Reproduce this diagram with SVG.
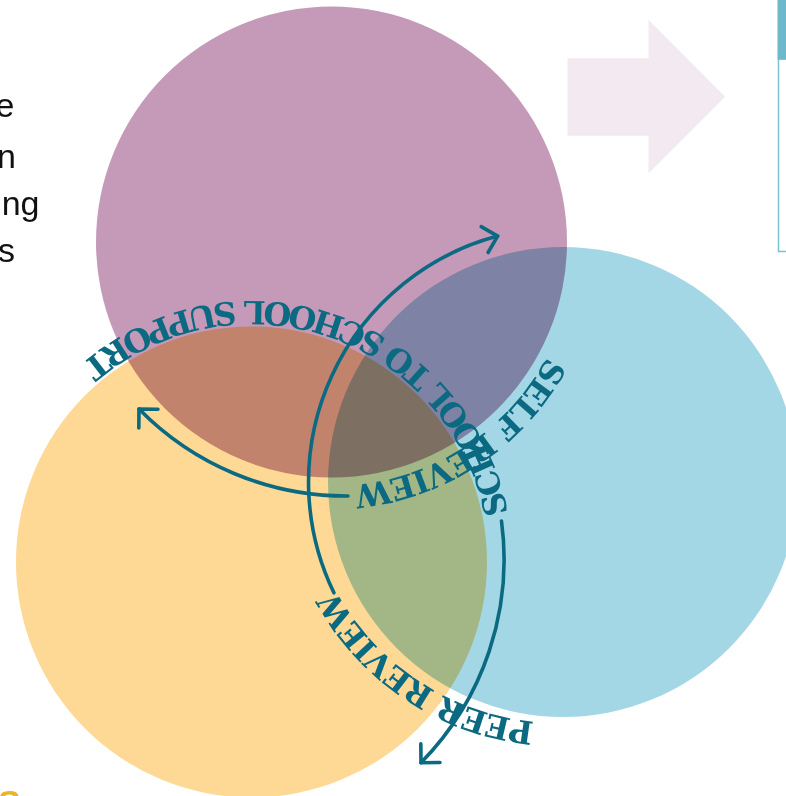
<svg xmlns="http://www.w3.org/2000/svg" width="786" height="796" viewBox="0 0 786 796">
<style>
.circ{mix-blend-mode:multiply}
.ring{font-family:"DejaVu Serif","Liberation Serif",serif;font-weight:bold;font-size:32px;letter-spacing:-1.3px;fill:#0B6A82}
.arrow{fill:none;stroke:#0B6A82;stroke-width:3.6;stroke-linecap:round}
.para{font-family:"Liberation Sans",Arial,sans-serif;font-size:34px;fill:#111111}
</style>
<defs>
<marker id="ah" markerUnits="userSpaceOnUse" markerWidth="40" markerHeight="40" viewBox="-20 -20 40 40" refX="0" refY="0" orient="auto" overflow="visible">
<path d="M-13.4,-13.4 L0,0 L-13.4,13.4" fill="none" stroke="#0B6A82" stroke-width="3.6" stroke-linecap="round" stroke-linejoin="round"/>
</marker>
<path id="p-self" d="M546.9,356.6 A244,244 0 0 1 209.5,453.3"/>
<path id="p-peer" d="M534.2,721.8 A254,254 0 0 1 320.3,382.1"/>
<path id="p-school" d="M507.9,513.1 A261,261 0 0 0 25.5,431.5"/>
</defs>
<rect width="786" height="796" fill="#ffffff"/>
<g id="paragraph">
<text class="para" x="14.5" y="117" text-anchor="end">e</text>
<text class="para" x="16" y="168" text-anchor="end">n</text>
<text class="para" x="39.5" y="215" text-anchor="end">ng</text>
<text class="para" x="15" y="262" text-anchor="end">s</text>
</g>
<g id="big-arrow">
<polygon points="567.5,58.3 648.5,58.3 648.5,20 725,96.7 648.5,173.3 648.5,135.7 567.5,135.7" fill="#F3E9F0"/>
</g>
<g id="side-box">
<rect x="778.5" y="59" width="40" height="192.5" fill="#ffffff" stroke="#7DC1D2" stroke-width="1.5"/>
<rect x="777.5" y="0" width="10" height="59.5" fill="#6DB8CB"/>
</g>
<g id="node-self-review">
<circle class="circ" cx="331.5" cy="242" r="235.5" fill="#C49AB8"/>
</g>
<g id="node-school-support">
<circle class="circ" cx="251.5" cy="562" r="235.5" fill="#FDD995"/>
</g>
<g id="node-peer-review">
<circle class="circ" cx="563" cy="482" r="235" fill="#A4D7E5"/>
</g>
<g id="connectors">
<path class="arrow" d="M348,496 A290,290 0 0 1 139,409" marker-end="url(#ah)"/>
<path class="arrow" d="M333.9,592.8 A254.5,254.5 0 0 1 497.6,236.1" marker-end="url(#ah)"/>
<path class="arrow" d="M501.5,521 A290,290 0 0 1 421,762.7" marker-end="url(#ah)"/>
</g>
<g id="labels">
<text class="ring"><textPath href="#p-self">SELF REVIEW</textPath></text>
<text class="ring"><textPath href="#p-peer">PEER REVIEW</textPath></text>
<text class="ring"><textPath href="#p-school">SCHOOL TO SCHOOL SUPPORT</textPath></text>
</g>
<g id="footer-fragment">
<text x="-2" y="814" font-family="Liberation Sans, Arial, sans-serif" font-weight="bold" font-size="34" fill="#E9B52E">S</text>
</g>
</svg>
